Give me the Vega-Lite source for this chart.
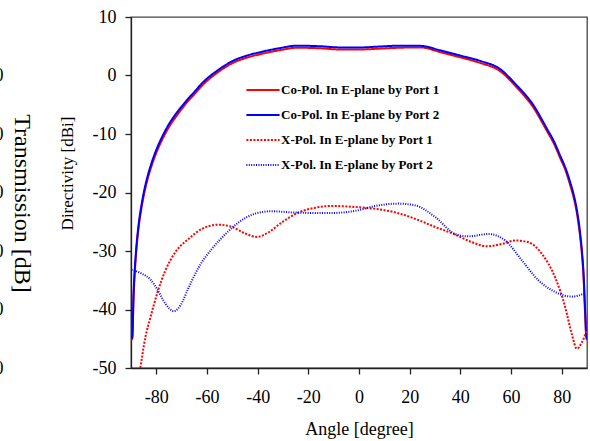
{
  "$schema": "https://vega.github.io/schema/vega-lite/v6.json",
  "width": 456,
  "height": 351,
  "autosize": {"type": "none"},
  "padding": {"left": 131, "top": 17, "right": 3, "bottom": 73},
  "background": "white",
  "config": {
    "font": "Liberation Serif",
    "view": {"stroke": "#444", "strokeWidth": 1.3},
    "axis": {"grid": false, "domainColor": "#222", "tickColor": "#222", "labelColor": "#000", "titleColor": "#000", "labelFont": "Liberation Serif", "titleFont": "Liberation Serif", "titleFontWeight": "normal", "domainWidth": 1.3, "tickWidth": 1.3, "labelExpr": "'' + datum.value"},
    "legend": {"labelFont": "Liberation Serif", "labelFontSize": 13, "labelFontWeight": "bold", "labelColor": "#000"}
  },
  "datasets": {
    "d": [
      {"series": "Co-Pol. In E-plane by Port 1", "angle": -90, "value": -45.2},
      {"series": "Co-Pol. In E-plane by Port 1", "angle": -89.5, "value": -45},
      {"series": "Co-Pol. In E-plane by Port 1", "angle": -89, "value": -38.2},
      {"series": "Co-Pol. In E-plane by Port 1", "angle": -88.5, "value": -33.7},
      {"series": "Co-Pol. In E-plane by Port 1", "angle": -88, "value": -30.5},
      {"series": "Co-Pol. In E-plane by Port 1", "angle": -87, "value": -26.0},
      {"series": "Co-Pol. In E-plane by Port 1", "angle": -86, "value": -23.0},
      {"series": "Co-Pol. In E-plane by Port 1", "angle": -85, "value": -20.6},
      {"series": "Co-Pol. In E-plane by Port 1", "angle": -83.5, "value": -17.8},
      {"series": "Co-Pol. In E-plane by Port 1", "angle": -82, "value": -15.6},
      {"series": "Co-Pol. In E-plane by Port 1", "angle": -80, "value": -13.2},
      {"series": "Co-Pol. In E-plane by Port 1", "angle": -77.5, "value": -10.8},
      {"series": "Co-Pol. In E-plane by Port 1", "angle": -75, "value": -8.8},
      {"series": "Co-Pol. In E-plane by Port 1", "angle": -72, "value": -6.9},
      {"series": "Co-Pol. In E-plane by Port 1", "angle": -68.5, "value": -4.9},
      {"series": "Co-Pol. In E-plane by Port 1", "angle": -65, "value": -3.2},
      {"series": "Co-Pol. In E-plane by Port 1", "angle": -61.9, "value": -1.7},
      {"series": "Co-Pol. In E-plane by Port 1", "angle": -55.4, "value": 0.65},
      {"series": "Co-Pol. In E-plane by Port 1", "angle": -48.8, "value": 2.35},
      {"series": "Co-Pol. In E-plane by Port 1", "angle": -45, "value": 2.95},
      {"series": "Co-Pol. In E-plane by Port 1", "angle": -38.9, "value": 3.65},
      {"series": "Co-Pol. In E-plane by Port 1", "angle": -31, "value": 4.35},
      {"series": "Co-Pol. In E-plane by Port 1", "angle": -24.5, "value": 4.75},
      {"series": "Co-Pol. In E-plane by Port 1", "angle": -15.3, "value": 4.65},
      {"series": "Co-Pol. In E-plane by Port 1", "angle": -7.4, "value": 4.45},
      {"series": "Co-Pol. In E-plane by Port 1", "angle": 0.5, "value": 4.45},
      {"series": "Co-Pol. In E-plane by Port 1", "angle": 8.4, "value": 4.6},
      {"series": "Co-Pol. In E-plane by Port 1", "angle": 16.3, "value": 4.75},
      {"series": "Co-Pol. In E-plane by Port 1", "angle": 24.2, "value": 4.8},
      {"series": "Co-Pol. In E-plane by Port 1", "angle": 32.1, "value": 4.0},
      {"series": "Co-Pol. In E-plane by Port 1", "angle": 40, "value": 3.1},
      {"series": "Co-Pol. In E-plane by Port 1", "angle": 47.8, "value": 2.15},
      {"series": "Co-Pol. In E-plane by Port 1", "angle": 55.7, "value": 0.75},
      {"series": "Co-Pol. In E-plane by Port 1", "angle": 62.3, "value": -2.05},
      {"series": "Co-Pol. In E-plane by Port 1", "angle": 65.5, "value": -3.6},
      {"series": "Co-Pol. In E-plane by Port 1", "angle": 68.9, "value": -5.5},
      {"series": "Co-Pol. In E-plane by Port 1", "angle": 71.5, "value": -7.4},
      {"series": "Co-Pol. In E-plane by Port 1", "angle": 74.2, "value": -9.5},
      {"series": "Co-Pol. In E-plane by Port 1", "angle": 77, "value": -11.7},
      {"series": "Co-Pol. In E-plane by Port 1", "angle": 79.4, "value": -14.1},
      {"series": "Co-Pol. In E-plane by Port 1", "angle": 81.5, "value": -16.2},
      {"series": "Co-Pol. In E-plane by Port 1", "angle": 83.4, "value": -18.8},
      {"series": "Co-Pol. In E-plane by Port 1", "angle": 84.7, "value": -20.8},
      {"series": "Co-Pol. In E-plane by Port 1", "angle": 86, "value": -23.5},
      {"series": "Co-Pol. In E-plane by Port 1", "angle": 87.3, "value": -27.6},
      {"series": "Co-Pol. In E-plane by Port 1", "angle": 88, "value": -30.6},
      {"series": "Co-Pol. In E-plane by Port 1", "angle": 88.6, "value": -34.2},
      {"series": "Co-Pol. In E-plane by Port 1", "angle": 89.3, "value": -41.2},
      {"series": "Co-Pol. In E-plane by Port 1", "angle": 89.7, "value": -44.7},
      {"series": "Co-Pol. In E-plane by Port 1", "angle": 90, "value": -45.2},

      {"series": "Co-Pol. In E-plane by Port 2", "angle": -90, "value": -45},
      {"series": "Co-Pol. In E-plane by Port 2", "angle": -89.5, "value": -44.7},
      {"series": "Co-Pol. In E-plane by Port 2", "angle": -89, "value": -37.3},
      {"series": "Co-Pol. In E-plane by Port 2", "angle": -88.5, "value": -33.0},
      {"series": "Co-Pol. In E-plane by Port 2", "angle": -88, "value": -29.9},
      {"series": "Co-Pol. In E-plane by Port 2", "angle": -87, "value": -25.5},
      {"series": "Co-Pol. In E-plane by Port 2", "angle": -86, "value": -22.5},
      {"series": "Co-Pol. In E-plane by Port 2", "angle": -85, "value": -20.1},
      {"series": "Co-Pol. In E-plane by Port 2", "angle": -83.5, "value": -17.3},
      {"series": "Co-Pol. In E-plane by Port 2", "angle": -82, "value": -15.1},
      {"series": "Co-Pol. In E-plane by Port 2", "angle": -80, "value": -12.7},
      {"series": "Co-Pol. In E-plane by Port 2", "angle": -77.5, "value": -10.3},
      {"series": "Co-Pol. In E-plane by Port 2", "angle": -75, "value": -8.3},
      {"series": "Co-Pol. In E-plane by Port 2", "angle": -72, "value": -6.4},
      {"series": "Co-Pol. In E-plane by Port 2", "angle": -68.5, "value": -4.5},
      {"series": "Co-Pol. In E-plane by Port 2", "angle": -65, "value": -2.8},
      {"series": "Co-Pol. In E-plane by Port 2", "angle": -61.9, "value": -1.3},
      {"series": "Co-Pol. In E-plane by Port 2", "angle": -55.4, "value": 1.0},
      {"series": "Co-Pol. In E-plane by Port 2", "angle": -48.8, "value": 2.7},
      {"series": "Co-Pol. In E-plane by Port 2", "angle": -45, "value": 3.3},
      {"series": "Co-Pol. In E-plane by Port 2", "angle": -38.9, "value": 4.0},
      {"series": "Co-Pol. In E-plane by Port 2", "angle": -31, "value": 4.7},
      {"series": "Co-Pol. In E-plane by Port 2", "angle": -24.5, "value": 5.1},
      {"series": "Co-Pol. In E-plane by Port 2", "angle": -15.3, "value": 5.0},
      {"series": "Co-Pol. In E-plane by Port 2", "angle": -7.4, "value": 4.8},
      {"series": "Co-Pol. In E-plane by Port 2", "angle": 0.5, "value": 4.8},
      {"series": "Co-Pol. In E-plane by Port 2", "angle": 8.4, "value": 4.96},
      {"series": "Co-Pol. In E-plane by Port 2", "angle": 16.3, "value": 5.1},
      {"series": "Co-Pol. In E-plane by Port 2", "angle": 24.2, "value": 5.07},
      {"series": "Co-Pol. In E-plane by Port 2", "angle": 32.1, "value": 4.3},
      {"series": "Co-Pol. In E-plane by Port 2", "angle": 40, "value": 3.4},
      {"series": "Co-Pol. In E-plane by Port 2", "angle": 47.8, "value": 2.5},
      {"series": "Co-Pol. In E-plane by Port 2", "angle": 55.7, "value": 1.1},
      {"series": "Co-Pol. In E-plane by Port 2", "angle": 62.3, "value": -1.7},
      {"series": "Co-Pol. In E-plane by Port 2", "angle": 65.5, "value": -3.2},
      {"series": "Co-Pol. In E-plane by Port 2", "angle": 68.9, "value": -5.1},
      {"series": "Co-Pol. In E-plane by Port 2", "angle": 71.5, "value": -7.0},
      {"series": "Co-Pol. In E-plane by Port 2", "angle": 74.2, "value": -9.1},
      {"series": "Co-Pol. In E-plane by Port 2", "angle": 77, "value": -11.3},
      {"series": "Co-Pol. In E-plane by Port 2", "angle": 79.4, "value": -13.7},
      {"series": "Co-Pol. In E-plane by Port 2", "angle": 81.5, "value": -15.8},
      {"series": "Co-Pol. In E-plane by Port 2", "angle": 83.4, "value": -18.3},
      {"series": "Co-Pol. In E-plane by Port 2", "angle": 84.7, "value": -20.3},
      {"series": "Co-Pol. In E-plane by Port 2", "angle": 86, "value": -23.0},
      {"series": "Co-Pol. In E-plane by Port 2", "angle": 87.3, "value": -27.0},
      {"series": "Co-Pol. In E-plane by Port 2", "angle": 88, "value": -30.0},
      {"series": "Co-Pol. In E-plane by Port 2", "angle": 88.6, "value": -33.5},
      {"series": "Co-Pol. In E-plane by Port 2", "angle": 89.3, "value": -40.5},
      {"series": "Co-Pol. In E-plane by Port 2", "angle": 89.7, "value": -44.4},
      {"series": "Co-Pol. In E-plane by Port 2", "angle": 90, "value": -45},

      {"series": "X-Pol. In E-plane by Port 1", "angle": -86.3, "value": -50},
      {"series": "X-Pol. In E-plane by Port 1", "angle": -84.3, "value": -44.7},
      {"series": "X-Pol. In E-plane by Port 1", "angle": -82.3, "value": -41.3},
      {"series": "X-Pol. In E-plane by Port 1", "angle": -79.7, "value": -37.3},
      {"series": "X-Pol. In E-plane by Port 1", "angle": -76.4, "value": -33.3},
      {"series": "X-Pol. In E-plane by Port 1", "angle": -72.5, "value": -30.2},
      {"series": "X-Pol. In E-plane by Port 1", "angle": -67.2, "value": -27.9},
      {"series": "X-Pol. In E-plane by Port 1", "angle": -61.9, "value": -26.2},
      {"series": "X-Pol. In E-plane by Port 1", "angle": -55.4, "value": -25.5},
      {"series": "X-Pol. In E-plane by Port 1", "angle": -50.1, "value": -25.9},
      {"series": "X-Pol. In E-plane by Port 1", "angle": -44.9, "value": -27.0},
      {"series": "X-Pol. In E-plane by Port 1", "angle": -40.2, "value": -27.6},
      {"series": "X-Pol. In E-plane by Port 1", "angle": -35.7, "value": -26.8},
      {"series": "X-Pol. In E-plane by Port 1", "angle": -30.4, "value": -25.1},
      {"series": "X-Pol. In E-plane by Port 1", "angle": -23.8, "value": -23.4},
      {"series": "X-Pol. In E-plane by Port 1", "angle": -17.2, "value": -22.6},
      {"series": "X-Pol. In E-plane by Port 1", "angle": -10.7, "value": -22.3},
      {"series": "X-Pol. In E-plane by Port 1", "angle": -1, "value": -22.5},
      {"series": "X-Pol. In E-plane by Port 1", "angle": 6.4, "value": -22.8},
      {"series": "X-Pol. In E-plane by Port 1", "angle": 14.3, "value": -23.4},
      {"series": "X-Pol. In E-plane by Port 1", "angle": 22.2, "value": -24.5},
      {"series": "X-Pol. In E-plane by Port 1", "angle": 30.1, "value": -25.9},
      {"series": "X-Pol. In E-plane by Port 1", "angle": 38, "value": -27.2},
      {"series": "X-Pol. In E-plane by Port 1", "angle": 44.6, "value": -28.5},
      {"series": "X-Pol. In E-plane by Port 1", "angle": 50.5, "value": -29.2},
      {"series": "X-Pol. In E-plane by Port 1", "angle": 56.4, "value": -28.8},
      {"series": "X-Pol. In E-plane by Port 1", "angle": 61.7, "value": -28.2},
      {"series": "X-Pol. In E-plane by Port 1", "angle": 66.9, "value": -28.5},
      {"series": "X-Pol. In E-plane by Port 1", "angle": 72.2, "value": -30.5},
      {"series": "X-Pol. In E-plane by Port 1", "angle": 77.4, "value": -34.5},
      {"series": "X-Pol. In E-plane by Port 1", "angle": 81.4, "value": -39.6},
      {"series": "X-Pol. In E-plane by Port 1", "angle": 84.0, "value": -44.2},
      {"series": "X-Pol. In E-plane by Port 1", "angle": 86.0, "value": -46.7},
      {"series": "X-Pol. In E-plane by Port 1", "angle": 88.0, "value": -45.6},
      {"series": "X-Pol. In E-plane by Port 1", "angle": 89.9, "value": -43.6},

      {"series": "X-Pol. In E-plane by Port 2", "angle": -89.8, "value": -33.2},
      {"series": "X-Pol. In E-plane by Port 2", "angle": -85.6, "value": -33.9},
      {"series": "X-Pol. In E-plane by Port 2", "angle": -82.3, "value": -34.9},
      {"series": "X-Pol. In E-plane by Port 2", "angle": -79.7, "value": -36.5},
      {"series": "X-Pol. In E-plane by Port 2", "angle": -76.4, "value": -39.0},
      {"series": "X-Pol. In E-plane by Port 2", "angle": -73.1, "value": -40.3},
      {"series": "X-Pol. In E-plane by Port 2", "angle": -70.5, "value": -39.3},
      {"series": "X-Pol. In E-plane by Port 2", "angle": -67.2, "value": -36.2},
      {"series": "X-Pol. In E-plane by Port 2", "angle": -63.3, "value": -32.8},
      {"series": "X-Pol. In E-plane by Port 2", "angle": -58.0, "value": -29.6},
      {"series": "X-Pol. In E-plane by Port 2", "angle": -52.7, "value": -27.1},
      {"series": "X-Pol. In E-plane by Port 2", "angle": -47.5, "value": -25.1},
      {"series": "X-Pol. In E-plane by Port 2", "angle": -40.9, "value": -23.6},
      {"series": "X-Pol. In E-plane by Port 2", "angle": -34.3, "value": -23.2},
      {"series": "X-Pol. In E-plane by Port 2", "angle": -26.4, "value": -23.4},
      {"series": "X-Pol. In E-plane by Port 2", "angle": -18.5, "value": -23.5},
      {"series": "X-Pol. In E-plane by Port 2", "angle": -10.7, "value": -23.5},
      {"series": "X-Pol. In E-plane by Port 2", "angle": -1, "value": -23.1},
      {"series": "X-Pol. In E-plane by Port 2", "angle": 6.4, "value": -22.3},
      {"series": "X-Pol. In E-plane by Port 2", "angle": 15.6, "value": -21.9},
      {"series": "X-Pol. In E-plane by Port 2", "angle": 22.2, "value": -22.2},
      {"series": "X-Pol. In E-plane by Port 2", "angle": 30.1, "value": -24.2},
      {"series": "X-Pol. In E-plane by Port 2", "angle": 38.0, "value": -27.1},
      {"series": "X-Pol. In E-plane by Port 2", "angle": 43.2, "value": -27.5},
      {"series": "X-Pol. In E-plane by Port 2", "angle": 51.1, "value": -27.1},
      {"series": "X-Pol. In E-plane by Port 2", "angle": 57.7, "value": -28.2},
      {"series": "X-Pol. In E-plane by Port 2", "angle": 64.3, "value": -31.6},
      {"series": "X-Pol. In E-plane by Port 2", "angle": 70.8, "value": -35.0},
      {"series": "X-Pol. In E-plane by Port 2", "angle": 77.4, "value": -37.0},
      {"series": "X-Pol. In E-plane by Port 2", "angle": 84.0, "value": -37.8},
      {"series": "X-Pol. In E-plane by Port 2", "angle": 89.3, "value": -37.2}
    ]
  },
  "data": {"name": "d"},
  "encoding": {
    "x": {
      "field": "angle", "type": "quantitative",
      "scale": {"domain": [-90, 90], "nice": false, "zero": false},
      "axis": {"values": [-80, -60, -40, -20, 0, 20, 40, 60, 80], "title": "Angle [degree]", "labelFontSize": 18, "tickSize": 6, "labelPadding": 14, "titleFontSize": 18, "titleX": 228, "titleY": 66, "titleBaseline": "alphabetic"}
    },
    "color": {
      "field": "series", "type": "nominal",
      "scale": {"domain": ["Co-Pol. In E-plane by Port 1", "Co-Pol. In E-plane by Port 2", "X-Pol. In E-plane by Port 1", "X-Pol. In E-plane by Port 2"], "range": ["#ff0000", "#0000ff", "#ff0000", "#0000ff"]},
      "legend": {"orient": "none", "legendX": 114, "legendY": 55, "title": null, "symbolType": "stroke", "symbolSize": 1100, "labelOffset": 0, "rowPadding": -4, "symbolOffset": 0}
    },
    "strokeDash": {
      "field": "series", "type": "nominal",
      "scale": {"domain": ["Co-Pol. In E-plane by Port 1", "Co-Pol. In E-plane by Port 2", "X-Pol. In E-plane by Port 1", "X-Pol. In E-plane by Port 2"], "range": [[1, 0], [1, 0], [2, 1.5], [1, 1.4]]},
      "legend": {"orient": "none", "legendX": 114, "legendY": 55, "title": null, "symbolType": "stroke", "symbolSize": 1100, "labelOffset": 0, "rowPadding": -4, "symbolOffset": 0}
    },
    "strokeWidth": {
      "field": "series", "type": "nominal",
      "scale": {"domain": ["Co-Pol. In E-plane by Port 1", "Co-Pol. In E-plane by Port 2", "X-Pol. In E-plane by Port 1", "X-Pol. In E-plane by Port 2"], "range": [2, 2, 2, 1.1]},
      "legend": {"orient": "none", "legendX": 114, "legendY": 55, "title": null, "symbolType": "stroke", "symbolSize": 1100, "labelOffset": 0, "rowPadding": -4, "symbolOffset": 0}
    }
  },
  "layer": [
    {
      "transform": [{"filter": "indexof(datum.series, 'Co-Pol') == 0"}],
      "mark": {"type": "line", "interpolate": "monotone", "clip": true},
      "encoding": {
        "y": {
          "field": "value", "type": "quantitative",
          "scale": {"domain": [-50, 10], "nice": false, "zero": false},
          "axis": {"orient": "left", "values": [-50, -40, -30, -20, -10, 0, 10], "title": "Directivity [dBi]", "labelFontSize": 18, "tickSize": 6, "labelPadding": 9, "titleFontSize": 17, "titleX": -59, "titleY": 156, "titleBaseline": "alphabetic", "titleAngle": -90}
        }
      }
    },
    {
      "transform": [{"filter": "indexof(datum.series, 'X-Pol') == 0"}],
      "mark": {"type": "line", "interpolate": "monotone", "clip": true},
      "encoding": {
        "y": {
          "field": "value", "type": "quantitative",
          "scale": {"domain": [-50, 10], "nice": false, "zero": false},
          "axis": {"orient": "left", "offset": 128, "domain": false, "ticks": false, "values": [-50, -40, -30, -20, -10, 0], "labelPadding": 0, "labelFontSize": 18, "title": "Transmission [dB]", "titleFontSize": 24, "titleAngle": 90, "titleBaseline": "alphabetic", "titleX": 11, "titleY": 186}
        }
      }
    }
  ],
  "resolve": {"axis": {"y": "independent"}}
}
